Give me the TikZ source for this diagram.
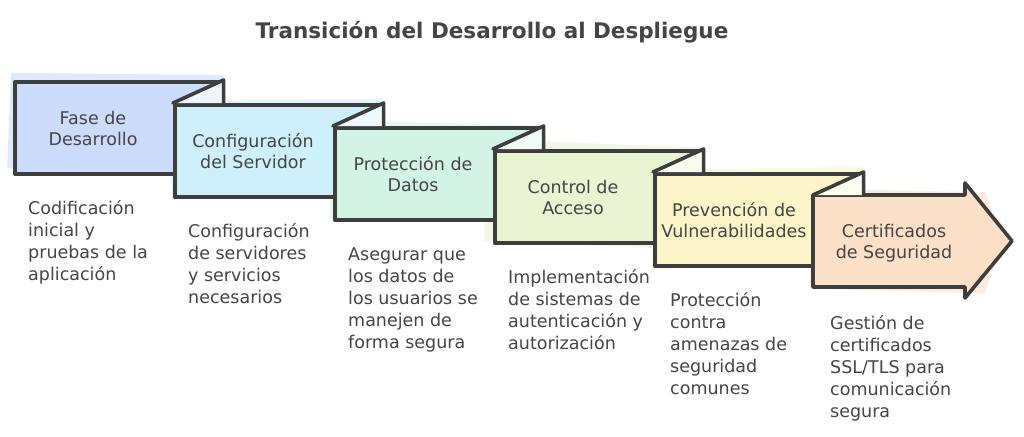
\documentclass[tikz,border=0pt]{standalone}
\usepackage{fontspec}
\setmainfont{DejaVu Sans}
\usetikzlibrary{calc}
\definecolor{linec}{HTML}{3E3E3E}
\definecolor{textc}{HTML}{454545}
\definecolor{cA}{HTML}{CCDBFA}
\definecolor{cB}{HTML}{CDF0FB}
\definecolor{cC}{HTML}{D3F4E4}
\definecolor{cD}{HTML}{E8F4D2}
\definecolor{cE}{HTML}{FCF5C9}
\definecolor{cF}{HTML}{FCE0C8}
\begin{document}
\begin{tikzpicture}[x=1pt,y=-1pt,
  box/.style={draw=linec, line width=3.6pt, line join=round, inner sep=0pt,
    minimum width=207pt, minimum height=92pt, anchor=north west},
  foldline/.style={draw=linec, line width=3.6pt, line join=round, line cap=round},
  patch/.style={opacity=0.6},
  lbl/.style={font=\fontsize{17.5}{21}\selectfont, text=textc, align=center, inner sep=0pt},
  desc/.style={font=\fontsize{17.5}{22}\selectfont, text=textc, align=left, inner sep=0pt, anchor=north west},
  ttl/.style={font=\bfseries\fontsize{21.5}{25}\selectfont, text=textc, inner sep=0pt}]
\useasboundingbox[fill=white] (0,0) rectangle (1024,436);

\node[ttl] (title) at (492,32) {Transición del Desarrollo al Despliegue};

% sketchy fill overflow behind the boxes
\fill[cA, patch, rotate around={-1.2:(116,126)}] (10,75) -- (222,73) -- (224,176) -- (8,170) -- cycle;
\fill[cB, patch, rotate around={1.0:(276,149)}] (170,99) -- (383,101) -- (381,198) -- (171,197) -- cycle;
\fill[cC, patch, rotate around={-1.0:(436,172)}] (330,122) -- (543,124) -- (544,221) -- (331,220) -- cycle;
\fill[cD, patch, rotate around={-2.0:(596,195)}] (483,143) -- (702,144) -- (704,246) -- (486,245) -- cycle;
\fill[cE, patch, rotate around={1.2:(756,218)}] (650,168) -- (864,169) -- (865,266) -- (651,267) -- cycle;
\fill[cF, patch, rotate around={-1.0:(900,241)}] (810,190) -- (985,191) -- (1000,240) -- (986,292) -- (811,290) -- cycle;

% box 1
\node[box, fill=cA] (b1) at (13,80) {};
% box 2
\node[box, fill=cB] (b2) at (173,103) {};
\fill[cA!30!white] (b1.north east) -- (b2.north west) -- (b1.north east |- b2.north west) -- cycle;
\draw[foldline] (b2.north west) -- (b1.north east) -- (b1.north east |- b2.north west);
% box 3
\node[box, fill=cC] (b3) at (333,126) {};
\fill[cB!30!white] (b2.north east) -- (b3.north west) -- (b2.north east |- b3.north west) -- cycle;
\draw[foldline] (b3.north west) -- (b2.north east) -- (b2.north east |- b3.north west);
% box 4
\node[box, fill=cD] (b4) at (493,149) {};
\fill[cC!30!white] (b3.north east) -- (b4.north west) -- (b3.north east |- b4.north west) -- cycle;
\draw[foldline] (b4.north west) -- (b3.north east) -- (b3.north east |- b4.north west);
% box 5
\node[box, fill=cE] (b5) at (653,172) {};
\fill[cD!30!white] (b4.north east) -- (b5.north west) -- (b4.north east |- b5.north west) -- cycle;
\draw[foldline] (b5.north west) -- (b4.north east) -- (b4.north east |- b5.north west);
% box 6 (arrow)
\coordinate (b6) at (813,195);
\draw[foldline, fill=cF] (b6) -- (965,195) -- (965,183) -- (1012,241) -- (965,298) -- (965,287) -- (813,287) -- cycle;
\fill[cE!30!white] (b5.north east) -- (b6) -- (b5.north east |- b6) -- cycle;
\draw[foldline] (b6) -- (b5.north east) -- (b5.north east |- b6);

% labels
\node[lbl] (l1) at (93,128) {Fase de\\Desarrollo};
\node[lbl] (l2) at (253,151) {Configuración\\del Servidor};
\node[lbl] (l3) at (413,174) {Protección de\\Datos};
\node[lbl] (l4) at (573,197) {Control de\\Acceso};
\node[lbl] (l5) at (734,220) {Prevención de\\Vulnerabilidades};
\node[lbl] (l6) at (894,243) {Certificados\\de Seguridad};

% descriptions
\node[desc] (d1) at (28,199) {\rule{0pt}{15pt}Codificación\\inicial y\\pruebas de la\\aplicación};
\node[desc] (d2) at (188,222) {\rule{0pt}{15pt}Configuración\\de servidores\\y servicios\\necesarios};
\node[desc] (d3) at (348,245) {\rule{0pt}{15pt}Asegurar que\\los datos de\\los usuarios se\\manejen de\\forma segura};
\node[desc] (d4) at (508,268) {\rule{0pt}{15pt}Implementación\\de sistemas de\\autenticación y\\autorización};
\node[desc] (d5) at (670,291) {\rule{0pt}{15pt}Protección\\contra\\amenazas de\\seguridad\\comunes};
\node[desc] (d6) at (830,314) {\rule{0pt}{15pt}Gestión de\\certificados\\SSL/TLS para\\comunicación\\segura};
\end{tikzpicture}
\end{document}
